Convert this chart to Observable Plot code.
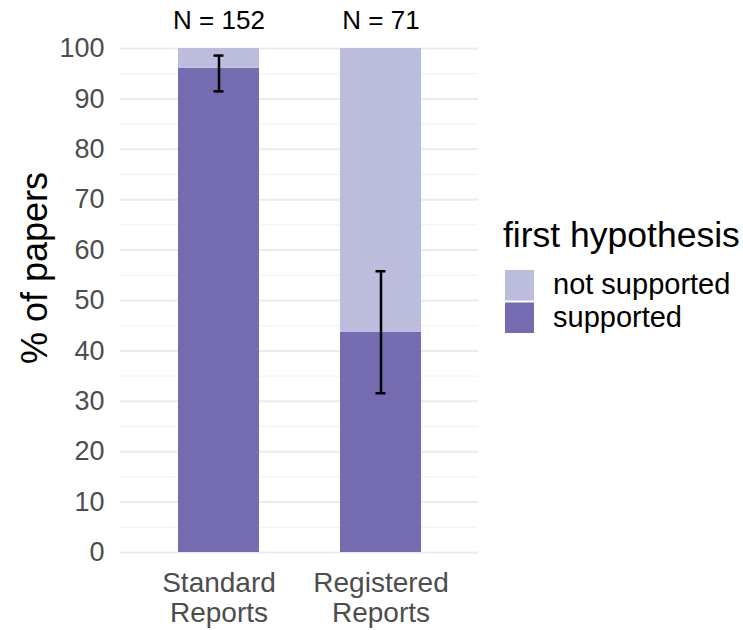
<!DOCTYPE html>
<html>
<head>
<meta charset="utf-8">
<script src="https://cdn.jsdelivr.net/npm/d3@7"></script>
<script src="https://cdn.jsdelivr.net/npm/@observablehq/plot@0.6"></script>
<style>
  body { margin: 0; background: #fff; font-family: "Liberation Sans", Arial, sans-serif; }
  #wrap { position: relative; width: 743px; height: 630px; }
  #legend { position: absolute; left: 0; top: 0; }
</style>
</head>
<body>
<div id="wrap"></div>
<script>
// Data
const groups = ["Standard Reports", "Registered Reports"];
const groupLabels = ["Standard\nReports", "Registered\nReports"];
const nPapers = [152, 71];
const supportedPct = [96.05, 43.66];
const notSupportedPct = [3.95, 56.34];
const ciLow = [91.5, 31.6];
const ciHigh = [98.6, 55.8];
const statuses = ["not supported", "supported"];
const statusColors = ["#bcbddc", "#756bb1"];
const majorTicks = [0, 10, 20, 30, 40, 50, 60, 70, 80, 90, 100];
const minorTicks = [5, 15, 25, 35, 45, 55, 65, 75, 85, 95];

const rows = [];
groups.forEach((g, i) => rows.push({group: g, status: "supported", pct: supportedPct[i]}));
groups.forEach((g, i) => rows.push({group: g, status: "not supported", pct: notSupportedPct[i]}));
const summary = groups.map((g, i) => ({group: g, label: groupLabels[i], n: nPapers[i], lo: ciLow[i], hi: ciHigh[i]}));

const font = "Liberation Sans, Arial, sans-serif";

const chart = Plot.plot({
  width: 743,
  height: 630,
  marginLeft: 120,
  marginRight: 265,
  marginTop: 48,
  marginBottom: 78,
  style: {fontFamily: font, background: "white"},
  x: {domain: groups, paddingInner: 0.5, paddingOuter: 0.35, axis: null},
  y: {domain: [0, 100], axis: null},
  color: {domain: statuses, range: statusColors},
  marks: [
    Plot.ruleY(minorTicks, {stroke: "#efefef", strokeWidth: 1}),
    Plot.ruleY(majorTicks, {stroke: "#ebebeb", strokeWidth: 2}),
    Plot.barY(rows, {x: "group", y: "pct", fill: "status", order: null}),
    Plot.ruleX(summary, {x: "group", y1: "lo", y2: "hi", stroke: "black", strokeWidth: 2.5}),
    Plot.tickY(summary, {x: "group", y: "lo", stroke: "black", strokeWidth: 2.5, insetLeft: 35.5, insetRight: 35.5}),
    Plot.tickY(summary, {x: "group", y: "hi", stroke: "black", strokeWidth: 2.5, insetLeft: 35.5, insetRight: 35.5}),
    Plot.text(summary, {x: "group", y: () => 100, text: d => `N = ${d.n}`, dy: -20, fontSize: 26, fill: "black", lineAnchor: "bottom"}),
    Plot.text(majorTicks, {x: null, y: d => d, text: d => String(d), frameAnchor: "left", textAnchor: "end", dx: -16, fontSize: 27, fill: "#4d4d4d"}),
    Plot.text(summary, {x: "group", text: "label", frameAnchor: "bottom", lineAnchor: "top", dy: 18, fontSize: 28, lineHeight: 1.07, fill: "#4d4d4d"})
  ]
});

const wrap = document.getElementById("wrap");
wrap.appendChild(chart);

// y-axis title
const svg = d3.select(chart);
svg.append("text")
  .attr("transform", "translate(47,268) rotate(-90)")
  .attr("text-anchor", "middle")
  .attr("font-family", font)
  .attr("font-size", 36)
  .attr("fill", "black")
  .text("% of papers");

// Legend (drawn from the color scale)
const leg = d3.select(wrap).append("svg")
  .attr("id", "legend")
  .attr("width", 743).attr("height", 630)
  .style("pointer-events", "none");
leg.append("text")
  .attr("x", 503).attr("y", 247)
  .attr("font-family", font).attr("font-size", 35.5).attr("fill", "black")
  .text("first hypothesis");
const colorScale = chart.scale("color");
statuses.forEach((s, i) => {
  const y0 = 270 + i * 32.5;
  leg.append("rect").attr("x", 505).attr("y", y0).attr("width", 29).attr("height", 30.5)
    .attr("fill", colorScale.apply(s));
  leg.append("text").attr("x", 553).attr("y", y0 + 24)
    .attr("font-family", font).attr("font-size", 29).attr("fill", "black")
    .text(s);
});
</script>
</body>
</html>
